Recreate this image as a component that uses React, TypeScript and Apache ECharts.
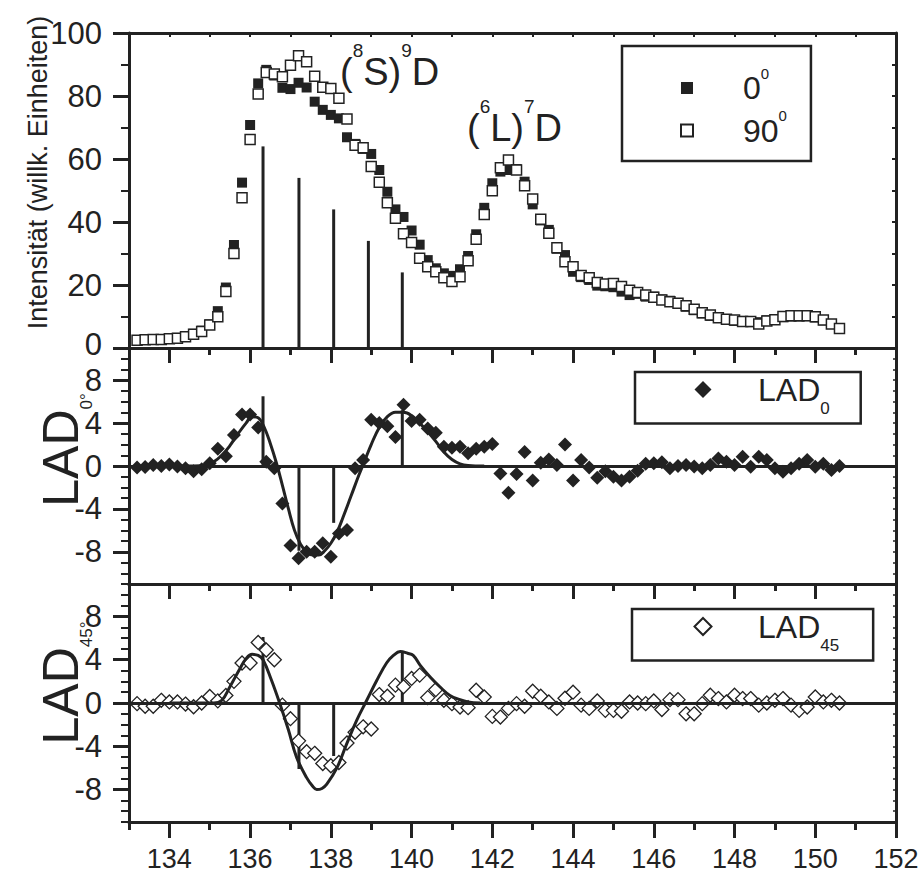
import React, { useEffect, useRef } from "react";
import * as echarts from "echarts";

// ---------- data ----------
const energy = [
  133.2, 133.4, 133.6, 133.8, 134.0, 134.2, 134.4, 134.6, 134.8, 135.0,
  135.2, 135.4, 135.6, 135.8, 136.0, 136.2, 136.4, 136.6, 136.8, 137.0,
  137.2, 137.4, 137.6, 137.8, 138.0, 138.2, 138.4, 138.6, 138.8, 139.0,
  139.2, 139.4, 139.6, 139.8, 140.0, 140.2, 140.4, 140.6, 140.8, 141.0,
  141.2, 141.4, 141.6, 141.8, 142.0, 142.2, 142.4, 142.6, 142.8, 143.0,
  143.2, 143.4, 143.6, 143.8, 144.0, 144.2, 144.4, 144.6, 144.8, 145.0,
  145.2, 145.4, 145.6, 145.8, 146.0, 146.2, 146.4, 146.6, 146.8, 147.0,
  147.2, 147.4, 147.6, 147.8, 148.0, 148.2, 148.4, 148.6, 148.8, 149.0,
  149.2, 149.4, 149.6, 149.8, 150.0, 150.2, 150.4, 150.6,
];

const intensity0 = [
  2.5, 2.6, 2.7, 2.8, 3.0, 3.2, 3.7, 4.5, 5.5, 7.5,
  11.7, 19.2, 32.7, 52.5, 70.8, 84.0, 88.3, 86.5, 82.6, 82.2,
  84.2, 82.7, 78.2, 75.6, 74.0, 72.9, 66.9, 64.8, 63.2, 61.6,
  56.5, 49.6, 44.0, 41.6, 37.3, 32.8, 27.9, 25.3, 23.7, 22.9,
  25.0, 29.2, 36.1, 44.5, 52.3, 56.0, 56.5, 56.8, 52.8, 45.6,
  40.5, 37.5, 31.5, 29.5, 24.2, 22.5, 21.6, 19.8, 19.6, 19.3,
  17.9, 16.8, 17.2, 16.3, 16.3, 15.4, 15.0, 14.0, 13.1, 12.0,
  11.0, 10.2, 9.8, 9.0, 8.6, 8.6, 8.2, 8.2, 8.8, 9.2,
  9.8, 10.0, 10.0, 10.1, 9.7, 8.8, 7.6, 6.2,
];

const intensity90 = [
  2.5, 2.6, 2.7, 2.7, 2.9, 3.1, 3.6, 4.4, 5.2, 7.3,
  9.9, 17.9, 30.0, 47.7, 66.2, 80.6, 87.5, 87.0, 86.1, 89.8,
  92.8, 90.9, 86.3, 82.8, 82.4, 79.3, 72.7, 64.4, 63.6, 57.6,
  52.6, 46.1, 41.2, 36.3, 33.5, 28.5, 25.8, 24.2, 22.3, 21.1,
  22.6, 27.7, 34.5, 42.4, 49.9, 57.2, 59.7, 56.5, 51.5, 47.3,
  40.9, 36.4, 31.8, 27.4, 25.8, 23.0, 22.3, 20.8, 20.3, 20.5,
  19.5, 18.3, 17.6, 16.8, 16.1, 15.2, 14.7, 14.2, 13.4, 12.3,
  11.2, 10.5, 9.6, 9.1, 8.9, 8.4, 8.4, 7.6, 8.6, 9.0,
  10.0, 10.2, 10.2, 10.2, 9.9, 8.9, 7.6, 6.2,
];

const lad0 = [
  -0.15, -0.1, 0.1, 0.0, 0.15, -0.05, -0.2, -0.5, -0.3, 0.25,
  1.6, 0.9, 2.9, 4.8, 4.8, 3.6, 0.4, -0.2, -3.5, -7.4,
  -8.6, -8.0, -8.0, -7.2, -8.45, -6.3, -5.96, -0.2, 0.55, 4.3,
  4.0, 3.7, 2.7, 5.7, 4.2, 4.3, 3.5, 3.1, 1.8, 1.7,
  1.8, 1.2, 1.6, 1.8, 2.05, -0.7, -2.5, -0.75, 1.3, -1.35,
  0.3, 0.6, 0.1, 2.0, -1.35, 0.55, -0.15, -1.1, -0.5, -1.0,
  -1.35, -1.0, -0.45, 0.2, 0.25, 0.35, -0.2, 0.0, 0.1, -0.05,
  -0.2, 0.1, 0.7, 0.4, 0.1, 0.87, -0.06, 0.87, 0.56, -0.2,
  -0.53, -0.2, 0.2, 0.56, -0.06, 0.2, -0.37, 0.0,
];

const lad45 = [
  -0.06, -0.3, -0.3, 0.25, 0.1, 0.1, -0.1, -0.35, 0.0, 0.6,
  0.2, 0.7, 2.0, 3.7, 3.7, 5.6, 4.9, 4.0, -0.2, -1.45,
  -3.5, -4.5, -4.65, -5.6, -5.8, -5.5, -3.7, -2.7, -2.2, -2.4,
  0.78, 0.63, 1.65, 1.5, 2.27, 2.58, 0.5, 1.24, 0.25, -0.06,
  -0.37, -0.43, 1.18, 0.56, -1.24, -1.3, -0.5, -0.06, -0.3, 1.09,
  0.63, 0.1, -0.5, 0.44, 1.0, -0.2, -0.5, 0.19, -0.68, -0.68,
  -0.77, 0.1, 0.0, -0.06, 0.19, -0.6, 0.31, 0.31, -1.0, -1.0,
  -0.06, 0.72, 0.41, 0.1, 0.72, 0.41, 0.41, -0.2, 0.0, 0.25,
  0.41, -0.2, -0.68, -0.37, 0.56, 0.1, 0.25, 0.0,
];

// stick spectrum (line positions and heights)
const stickEnergy = [136.32, 137.21, 138.07, 138.93, 139.77];
const stickIntensity = [64, 54, 44, 34, 24];
const ladStickEnergy = [136.32, 137.21, 138.07, 139.77];
const lad0Stick = [6.5, -7.9, -5.3, 5.2];
const lad45Stick = [6.1, -6.1, -4.9, 4.8];

// fitted curves
const lad0CurveX = [
  134.0, 134.6, 134.9, 135.1, 135.3, 135.5, 135.7, 135.9, 136.05, 136.2,
  136.35, 136.5, 136.65, 136.8, 136.95, 137.1, 137.25, 137.4, 137.55, 137.7,
  137.85, 138.0, 138.15, 138.3, 138.5, 138.7, 138.85, 139.0, 139.2, 139.4,
  139.6, 139.8, 140.0, 140.2, 140.4, 140.6, 140.8, 141.0, 141.2, 141.4, 141.8,
];
const lad0CurveY = [
  0, 0, 0.1, 0.4, 1.0, 1.9, 3.0, 4.0, 4.6, 4.5,
  3.6, 2.1, 0.3, -1.8, -4.0, -6.0, -7.3, -8.0, -8.3, -8.3,
  -7.9, -7.2, -6.2, -4.8, -2.8, -0.8, 0.6, 2.0, 3.6, 4.6,
  5.0, 5.0, 4.7, 4.0, 3.2, 2.3, 1.3, 0.6, 0.2, 0.05, 0,
];
const lad45CurveX = [
  134.0, 135.1, 135.3, 135.5, 135.75, 135.9, 136.05, 136.2, 136.32, 136.53,
  136.74, 136.95, 137.15, 137.4, 137.55, 137.65, 137.78, 137.9, 138.15, 138.39,
  138.64, 138.89, 139.14, 139.38, 139.55, 139.72, 139.9, 140.04, 140.21, 140.46,
  140.7, 140.95, 141.2, 141.4, 141.7,
];
const lad45CurveY = [
  0, 0, 0.25, 1.5, 3.2, 4.1, 4.5, 4.4, 4.0, 2.1,
  -0.1, -2.5, -5.0, -6.9, -7.7, -8.0, -7.9, -7.5, -6.0, -3.8,
  -1.6, 0.25, 2.1, 3.7, 4.4, 4.75, 4.6, 4.4, 3.5, 2.4,
  1.5, 0.7, 0.3, 0.1, 0,
];

// axis ticks / labels
const xTickLabels = [134, 136, 138, 140, 142, 144, 146, 148, 150, 152];
const xMinorTicks = [133, 135, 137, 139, 141, 143, 145, 147, 149, 151];
const ladTickLabels = [-8, -4, 0, 4, 8];

// ---------- styling ----------
const INK = "#222";
const SANS = "'Liberation Sans', Arial, Helvetica, sans-serif";
const Y_LABEL_SIZE = 31;

const pairs = (xs: number[], ys: number[]) => xs.map((x, i) => [x, ys[i]]);

function buildOption(): any {
  const grids = [
    { left: 129, right: 25, top: 33, height: 315 },
    { left: 129, right: 25, top: 348, height: 236 },
    { left: 129, right: 25, top: 584, height: 238 },
  ].map((g) => ({ ...g, outerBoundsMode: "none", containLabel: false }));

  const xBase = (gridIndex: number, position: string, extra: any = {}) => ({
    type: "value",
    gridIndex,
    position,
    min: 133,
    max: 152,
    splitLine: { show: false },
    axisLine: { show: true, onZero: false, lineStyle: { color: INK, width: 3 } },
    axisTick: { show: false },
    axisLabel: { show: false },
    ...extra,
  });
  const majorTick = (inside: boolean, length: number, values: number[]) => ({
    show: true,
    inside,
    length,
    customValues: values,
    lineStyle: { color: INK, width: 3 },
  });
  const noLine = { show: false, onZero: false };

  const xAxis = [
    xBase(0, "bottom"), // 0
    xBase(0, "top", {
      interval: 1,
      axisTick: { show: true, inside: true, length: 4, lineStyle: { color: INK, width: 2 } },
    }), // 1
    xBase(1, "bottom"), // 2
    xBase(1, "top", { axisTick: majorTick(true, 15, xTickLabels) }), // 3
    xBase(1, "top", { axisLine: noLine, axisTick: majorTick(true, 7, xMinorTicks) }), // 4
    xBase(2, "bottom", {
      axisTick: majorTick(false, 16, xTickLabels),
      axisLabel: {
        show: true,
        customValues: xTickLabels,
        fontFamily: SANS,
        fontSize: 27,
        color: INK,
        margin: 23,
      },
    }), // 5
    xBase(2, "bottom", { axisLine: noLine, axisTick: majorTick(false, 8, xMinorTicks) }), // 6
    xBase(2, "top", { axisTick: majorTick(true, 15, xTickLabels) }), // 7
    xBase(2, "top", { axisLine: noLine, axisTick: majorTick(true, 7, xMinorTicks) }), // 8
  ];

  const yLabel = { show: true, fontFamily: SANS, fontSize: Y_LABEL_SIZE, color: INK, margin: 27 };
  const ladName = (sub: string, padLeft: number) => ({
    name: `{a|LAD}{b|${sub}}`,
    nameLocation: "middle",
    nameRotate: 90,
    nameGap: 34,
    nameMoveOverlap: false,
    nameTextStyle: {
      padding: [0, 0, 0, padLeft],
      rich: {
        a: { fontFamily: SANS, fontSize: 50, lineHeight: 68, color: INK },
        b: { fontFamily: SANS, fontSize: 17, verticalAlign: "bottom", color: INK },
      },
    },
  });
  const yBase = (gridIndex: number, position: string, min: number, max: number, extra: any = {}) => ({
    type: "value",
    gridIndex,
    position,
    min,
    max,
    splitLine: { show: false },
    axisLine: { show: true, onZero: false, lineStyle: { color: INK, width: 3 } },
    axisTick: { show: false },
    axisLabel: { show: false },
    ...extra,
  });

  const yAxis = [
    yBase(0, "left", 0, 100, {
      interval: 20,
      axisTick: { show: true, inside: false, length: 16, lineStyle: { color: INK, width: 3 } },
      minorTick: { show: true, splitNumber: 2, length: 8, lineStyle: { color: INK, width: 2 } },
      axisLabel: {
        ...yLabel,
        // the bottom "0" sits right above the "8" of the middle panel: lift it a little
        formatter: (v: number) => (v === 0 ? "{z|0}" : `${v}`),
        rich: {
          z: { fontFamily: SANS, fontSize: Y_LABEL_SIZE, color: INK, padding: [0, 0, 8, 0] },
        },
      },
      name: "Intensität (willk. Einheiten)",
      nameLocation: "middle",
      nameRotate: 90,
      nameGap: 78,
      nameMoveOverlap: false,
      nameTextStyle: { fontFamily: SANS, fontSize: 27, color: INK, padding: [0, 0, 0, 36] },
    }), // 0
    yBase(0, "right", 0, 100, {
      interval: 10,
      axisTick: { show: true, inside: true, length: 4, lineStyle: { color: INK, width: 2 } },
    }), // 1
    yBase(1, "left", -11, 11, {
      interval: 1,
      axisTick: { show: true, inside: false, length: 8, lineStyle: { color: INK, width: 2 } },
      axisLabel: { ...yLabel, customValues: ladTickLabels },
      ...ladName("0°", 32),
    }), // 2
    yBase(1, "left", -11, 11, { axisLine: noLine, axisTick: majorTick(false, 16, ladTickLabels) }), // 3
    yBase(1, "right", -11, 11, {
      interval: 1,
      axisTick: { show: true, inside: true, length: 3, lineStyle: { color: INK, width: 1.5 } },
    }), // 4
    yBase(2, "left", -11, 11, {
      interval: 1,
      axisTick: { show: true, inside: false, length: 8, lineStyle: { color: INK, width: 2 } },
      axisLabel: { ...yLabel, customValues: ladTickLabels },
      ...ladName("45°", 40),
    }), // 5
    yBase(2, "left", -11, 11, { axisLine: noLine, axisTick: majorTick(false, 16, ladTickLabels) }), // 6
    yBase(2, "right", -11, 11, {
      interval: 1,
      axisTick: { show: true, inside: true, length: 3, lineStyle: { color: INK, width: 1.5 } },
    }), // 7
  ];

  const stickSeries = (xi: number, yi: number, xs: number[], ys: number[]) => ({
    type: "custom",
    xAxisIndex: xi,
    yAxisIndex: yi,
    silent: true,
    data: pairs(xs, ys),
    renderItem: (_p: any, api: any) => {
      const p0 = api.coord([api.value(0), 0]);
      const p1 = api.coord([api.value(0), api.value(1)]);
      return {
        type: "line",
        shape: { x1: p0[0], y1: p0[1], x2: p1[0], y2: p1[1] },
        style: { stroke: INK, lineWidth: 3 },
      };
    },
  });
  const curveSeries = (xi: number, yi: number, xs: number[], ys: number[]) => ({
    type: "line",
    xAxisIndex: xi,
    yAxisIndex: yi,
    silent: true,
    smooth: 0.4,
    showSymbol: false,
    symbol: "none",
    lineStyle: { color: INK, width: 3 },
    data: pairs(xs, ys),
    markLine: {
      silent: true,
      symbol: "none",
      label: { show: false },
      lineStyle: { color: INK, width: 3, type: "solid" },
      data: [{ yAxis: 0 }],
    },
  });

  const series = [
    stickSeries(0, 0, stickEnergy, stickIntensity),
    {
      name: "0°",
      type: "scatter",
      xAxisIndex: 0,
      yAxisIndex: 0,
      symbol: "rect",
      symbolSize: 10,
      itemStyle: { color: INK, opacity: 1 },
      data: pairs(energy, intensity0),
    },
    {
      name: "90°",
      type: "scatter",
      xAxisIndex: 0,
      yAxisIndex: 0,
      symbol: "rect",
      symbolSize: 10,
      itemStyle: { color: "#fff", borderColor: INK, borderWidth: 1.5, opacity: 1 },
      data: pairs(energy, intensity90),
    },
    curveSeries(2, 2, lad0CurveX, lad0CurveY),
    stickSeries(2, 2, ladStickEnergy, lad0Stick),
    {
      name: "LAD0",
      type: "scatter",
      xAxisIndex: 2,
      yAxisIndex: 2,
      symbol: "diamond",
      symbolSize: 14,
      itemStyle: { color: INK, opacity: 1 },
      data: pairs(energy, lad0),
    },
    curveSeries(5, 5, lad45CurveX, lad45CurveY),
    stickSeries(5, 5, ladStickEnergy, lad45Stick),
    {
      name: "LAD45",
      type: "scatter",
      xAxisIndex: 5,
      yAxisIndex: 5,
      symbol: "diamond",
      symbolSize: 14,
      itemStyle: { color: "#fff", borderColor: INK, borderWidth: 1.3, opacity: 1 },
      data: pairs(energy, lad45),
    },
  ];

  const legendBase = {
    orient: "vertical",
    selectedMode: false,
    borderColor: INK,
    borderWidth: 2.5,
    borderRadius: 0,
    backgroundColor: "#fff",
    itemStyle: { opacity: 1 },
  };
  const subRich = (fontSize: number, lineHeight: number, subSize: number, align: string) => ({
    a: { fontFamily: SANS, fontSize, lineHeight, color: INK },
    b: { fontFamily: SANS, fontSize: subSize, verticalAlign: align, color: INK },
  });
  const legend = [
    {
      ...legendBase,
      data: ["0°", "90°"],
      left: 622,
      top: 46,
      itemWidth: 12,
      itemHeight: 12,
      itemGap: 4,
      padding: [19.5, 24, 14.5, 58],
      formatter: (n: string) => `{a|${n.replace("°", "")}}{b|0}`,
      textStyle: { padding: [0, 0, 0, 45], rich: subRich(32, 45, 15, "top") },
    },
    {
      ...legendBase,
      data: ["LAD0"],
      left: 635,
      top: 372,
      itemWidth: 17,
      itemHeight: 17,
      padding: [1.5, 31, 6.5, 59.5],
      formatter: () => "{a|LAD}{b|0}",
      textStyle: { padding: [0, 0, 0, 41.5], rich: subRich(32, 55, 17, "bottom") },
    },
    {
      ...legendBase,
      data: ["LAD45"],
      left: 632,
      top: 609,
      itemWidth: 17,
      itemHeight: 17,
      padding: [1.5, 34, 6.5, 61.5],
      formatter: () => "{a|LAD}{b|45}",
      textStyle: { padding: [0, 0, 0, 41.5], rich: subRich(32, 55, 17, "bottom") },
    },
  ];

  const annoRich = {
    p: { fontFamily: SANS, fontSize: 38, lineHeight: 62, fill: INK },
    s: { fontFamily: SANS, fontSize: 19, verticalAlign: "top", fill: INK },
  };
  const graphic = [
    {
      type: "text",
      x: 340,
      y: 41,
      silent: true,
      style: {
        text: "{p|(}{s|8}{p|S)}{s|9}{p|D}",
        rich: annoRich,
        fill: INK,
        align: "left",
        verticalAlign: "top",
      },
    },
    {
      type: "text",
      x: 467,
      y: 97,
      silent: true,
      style: {
        text: "{p|(}{s|6}{p|L)}{s|7}{p|D}",
        rich: annoRich,
        fill: INK,
        align: "left",
        verticalAlign: "top",
      },
    },
  ];

  return {
    animation: false,
    backgroundColor: "#fff",
    textStyle: { fontFamily: SANS },
    grid: grids,
    xAxis,
    yAxis,
    legend,
    series,
    graphic,
  };
}

export default function App() {
  const ref = useRef<HTMLDivElement>(null);
  useEffect(() => {
    document.body.style.margin = "0";
    const chart = echarts.init(ref.current!, null, { renderer: "svg" });
    chart.setOption(buildOption());
    return () => chart.dispose();
  }, []);
  return <div ref={ref} style={{ width: 921, height: 876 }} />;
}
